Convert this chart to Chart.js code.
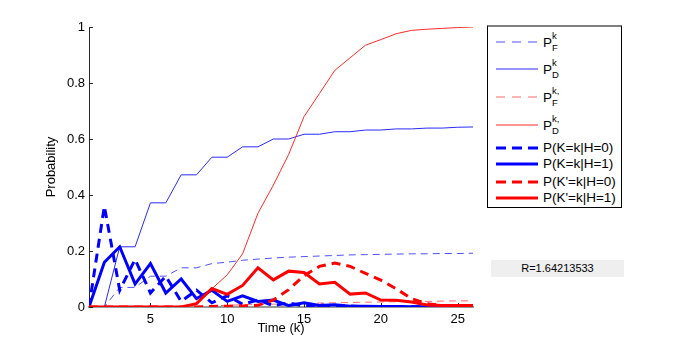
<!DOCTYPE html>
<html>
<head>
<meta charset="utf-8">
<script src="https://cdn.jsdelivr.net/npm/chart.js@4.4.1/dist/chart.umd.min.js"></script>
<style>
  body { margin: 0; background: #fff; font-family: "Liberation Sans", Arial, sans-serif; }
  #wrap { position: relative; width: 689px; height: 346px; }
  #legend { position: absolute; left: 487px; top: 25px; width: 135px; height: 183px; box-sizing: border-box;
            border: 1px solid #000; border-top: 2px solid #7f7f7f; background: #fff; }
  .row { position: absolute; left: 0; width: 130px; height: 0; }
  .row svg { position: absolute; left: 8px; top: -3px; }
  .lbl { position: absolute; left: 55px; top: -8px; font-size: 13.5px; line-height: 16px; white-space: nowrap; color: #000; }
  .scr { position: absolute; left: 64px; font-size: 9.5px; line-height: 10px; color: #000; }
  #rbox { position: absolute; left: 491px; top: 260px; width: 133px; height: 17px; background: #efefef;
          font-size: 11px; line-height: 17px; text-align: center; color: #000; }
</style>
</head>
<body>
<div id="wrap">
  <canvas id="chart" width="689" height="346"></canvas>
  <div id="legend"></div>
  <div id="rbox">R=1.64213533</div>
</div>
<script>
// Time axis (k)
const steps = [1,2,3,4,5,6,7,8,9,10,11,12,13,14,15,16,17,18,19,20,21,22,23,24,25,26];

// cumulative probabilities
const pFk  = [0,0,0.07,0.07,0.11,0.11,0.14,0.14,0.155,0.16,0.167,0.171,0.175,0.178,0.18,0.182,0.184,0.186,0.187,0.188,0.189,0.19,0.19,0.191,0.191,0.192];
const pDk  = [0,0,0.215,0.215,0.372,0.372,0.472,0.472,0.535,0.535,0.572,0.572,0.6,0.6,0.617,0.617,0.626,0.626,0.632,0.632,0.636,0.636,0.639,0.639,0.642,0.643];
const pFk2 = [0,0,0,0,0,0,0,0.002,0.004,0.006,0.008,0.009,0.01,0.011,0.012,0.014,0.015,0.016,0.017,0.018,0.019,0.02,0.02,0.021,0.022,0.022];
const pDk2 = [0,0,0,0,0,0,0,0.01,0.065,0.115,0.19,0.335,0.435,0.545,0.68,0.762,0.845,0.89,0.935,0.955,0.976,0.988,0.992,0.995,0.998,1.0];

// per-step probabilities
const kH0  = [0,0.36,0.06,0.17,0.05,0.11,0.02,0.06,0.015,0.04,0.01,0.025,0.005,0.015,0.003,0.008,0.002,0.004,0.001,0.002,0.001,0.001,0,0,0,0];
const kH1  = [0,0.16,0.215,0.082,0.155,0.05,0.1,0.03,0.06,0.02,0.04,0.02,0.025,0.005,0.015,0.005,0.008,0.003,0.003,0.002,0.002,0.001,0.001,0,0,0];
const kpH0 = [0,0,0,0,0,0,0,0,0.002,0.003,0.004,0.006,0.025,0.062,0.112,0.145,0.157,0.145,0.12,0.096,0.065,0.03,0.012,0.005,0.002,0];
const kpH1 = [0,0,0,0,0,0,0,0.012,0.066,0.045,0.077,0.14,0.097,0.128,0.123,0.082,0.088,0.046,0.05,0.025,0.024,0.018,0.007,0.005,0.005,0.005];

// tick labels
const xTicks = [5,10,15,20,25];
const yTicks = [0,0.2,0.4,0.6,0.8,1];

// legend labels (base, superscript, subscript)
const labelBase = ['P','P','P','P','P(K=k|H=0)','P(K=k|H=1)',"P(K'=k|H=0)","P(K'=k|H=1)"];
const labelSup  = ['k','k','k,','k,','','','',''];
const labelSub  = ['F','D','F','D','','','',''];

const seriesData = [pFk, pDk, pFk2, pDk2, kH0, kH1, kpH0, kpH1];
const styles = [
  { color: '#4f4fff', width: 1, dash: [7,5] },
  { color: '#2a2aff', width: 1, dash: [] },
  { color: '#ff6a6a', width: 1, dash: [7,5] },
  { color: '#ff2a2a', width: 1, dash: [] },
  { color: '#0000ff', width: 3, dash: [9,6] },
  { color: '#0000ff', width: 3, dash: [] },
  { color: '#ff0000', width: 3, dash: [9,6] },
  { color: '#ff0000', width: 3, dash: [] }
];

const FONT = '"Liberation Sans", Arial, sans-serif';

const datasets = seriesData.map((vals, i) => ({
  label: labelBase[i] + labelSup[i] + labelSub[i],
  data: steps.map((k, j) => ({ x: k, y: vals[j] })),
  borderColor: styles[i].color,
  borderWidth: styles[i].width,
  borderDash: styles[i].dash,
  pointRadius: 0,
  tension: 0,
  fill: false,
  order: seriesData.length - i
}));

// small inward tick marks like the original axes
const inwardTicks = {
  id: 'inwardTicks',
  beforeDatasetsDraw(chart) {
    const { ctx, chartArea, scales } = chart;
    ctx.save();
    ctx.strokeStyle = '#262626';
    ctx.lineWidth = 1;
    scales.x.ticks.forEach(t => {
      const px = Math.round(scales.x.getPixelForValue(t.value)) + 0.5;
      ctx.beginPath();
      ctx.moveTo(px, chartArea.bottom);
      ctx.lineTo(px, chartArea.bottom - 4);
      ctx.stroke();
    });
    scales.y.ticks.forEach(t => {
      const py = Math.round(scales.y.getPixelForValue(t.value)) + 0.5;
      ctx.beginPath();
      ctx.moveTo(chartArea.left, py);
      ctx.lineTo(chartArea.left + 4, py);
      ctx.stroke();
    });
    ctx.restore();
  }
};

const ctx = document.getElementById('chart').getContext('2d');
const chart = new Chart(ctx, {
  type: 'line',
  data: { datasets: datasets },
  plugins: [inwardTicks],
  options: {
    responsive: false,
    animation: false,
    devicePixelRatio: 1,
    layout: { padding: { top: 27, right: 216, left: 0, bottom: 0 } },
    plugins: { legend: { display: false }, tooltip: { enabled: false } },
    scales: {
      x: {
        type: 'linear',
        min: 1,
        max: 26,
        afterBuildTicks: s => { s.ticks = xTicks.map(v => ({ value: v })); },
        afterFit: s => { s.height = 39; },
        grid: { drawOnChartArea: false, drawTicks: false },
        border: { color: '#9a9a9a', width: 2 },
        ticks: { padding: 5, color: '#000', autoSkip: false, maxRotation: 0, font: { size: 13, family: FONT } },
        title: { display: true, text: 'Time (k)', color: '#000', font: { size: 13, family: FONT }, padding: { top: 0, bottom: 10 } }
      },
      y: {
        min: 0,
        max: 1,
        afterBuildTicks: s => { s.ticks = yTicks.map(v => ({ value: v })); },
        afterFit: s => { s.width = 89; },
        grid: { drawOnChartArea: false, drawTicks: false },
        border: { color: '#262626', width: 1 },
        ticks: { padding: 4, color: '#000', font: { size: 13, family: FONT },
                 callback: v => String(+v.toFixed(1)) },
        title: { display: true, text: 'Probability', color: '#000', font: { size: 13, family: FONT }, padding: { top: 44, bottom: 0 } }
      }
    }
  }
});

// legend (html so the sub/superscripts stay real text)
const legend = document.getElementById('legend');
const rowY = [15.3, 42.3, 70.3, 98.3, 120.7, 137.3, 154.7, 170.7];
datasets.forEach((d, i) => {
  const row = document.createElement('div');
  row.className = 'row';
  row.style.top = rowY[i] + 'px';
  const st = styles[i];
  const ns = 'http://www.w3.org/2000/svg';
  const svg = document.createElementNS(ns, 'svg');
  svg.setAttribute('width', '42');
  svg.setAttribute('height', '6');
  const ln = document.createElementNS(ns, 'line');
  ln.setAttribute('x1', '0'); ln.setAttribute('x2', '42');
  ln.setAttribute('y1', '3'); ln.setAttribute('y2', '3');
  ln.setAttribute('stroke', st.color);
  ln.setAttribute('stroke-width', st.width);
  if (st.dash.length) ln.setAttribute('stroke-dasharray', st.width > 1 ? '10,6' : '9,7');
  svg.appendChild(ln);
  row.appendChild(svg);

  const lbl = document.createElement('span');
  lbl.className = 'lbl';
  lbl.textContent = labelBase[i];
  if (labelSup[i]) lbl.style.top = '-7px';
  row.appendChild(lbl);
  if (labelSup[i]) {
    const sup = document.createElement('span');
    sup.className = 'scr';
    sup.style.top = '-11px';
    sup.textContent = labelSup[i];
    row.appendChild(sup);
    const sub = document.createElement('span');
    sub.className = 'scr';
    sub.style.top = '1px';
    sub.textContent = labelSub[i];
    row.appendChild(sub);
  }
  legend.appendChild(row);
});
</script>
</body>
</html>
